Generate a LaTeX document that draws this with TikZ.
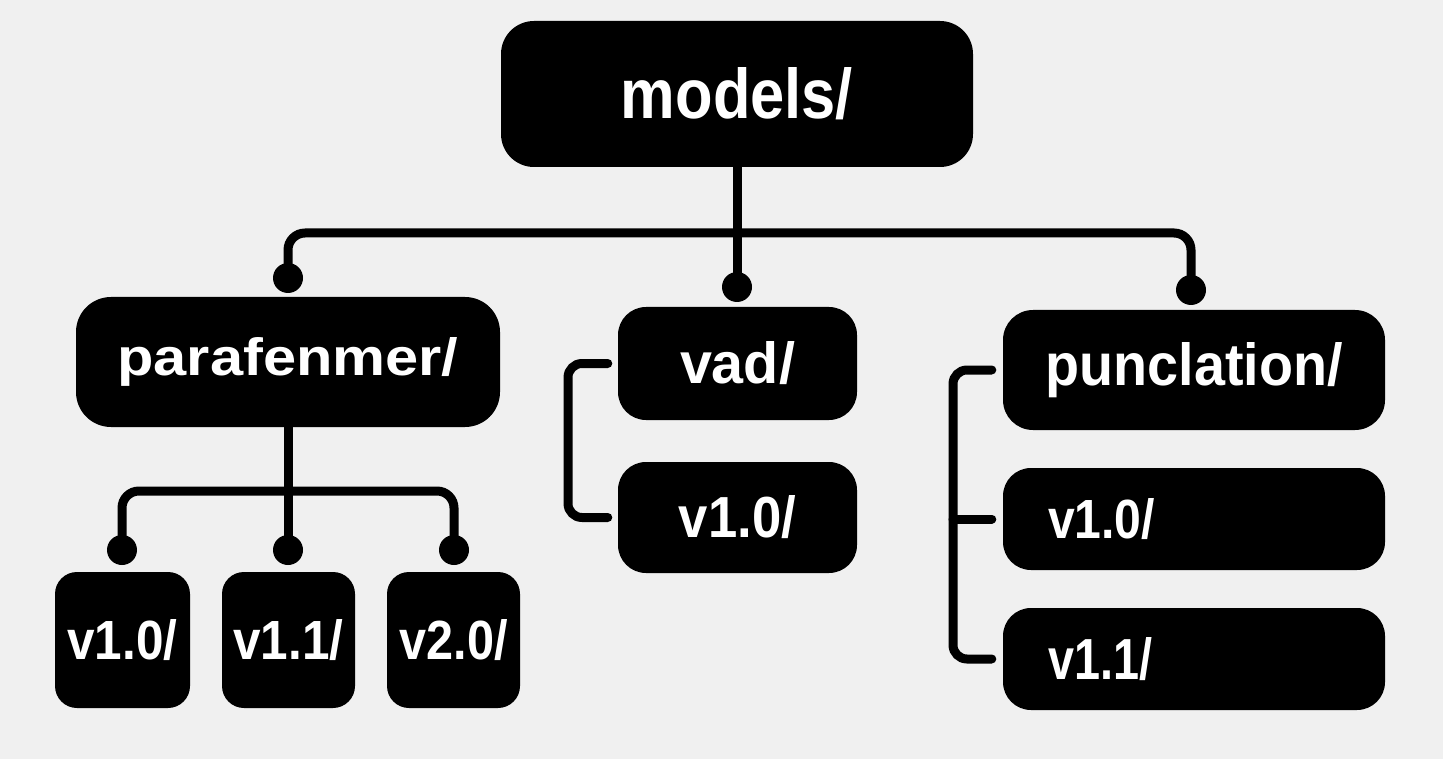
\documentclass[tikz,border=0pt]{standalone}
\usepackage{fontspec}
\setmainfont{Liberation Sans}
\usepackage{graphicx}
\definecolor{bg}{RGB}{240,240,240}
\newcommand\dirtxt[3]{\resizebox{#1pt}{#2pt}{\bfseries #3}}
\begin{document}
\begin{tikzpicture}[x=1pt,y=-1pt,
  box/.style={fill=black, draw=none, rounded corners=#1, inner sep=0pt, text=white},
  conn/.style={line width=9pt, line cap=round, rounded corners=17pt, draw=black},
  dot/.style={circle, fill=black, draw=none, inner sep=0pt, minimum size=30pt}]
\fill[bg] (0,0) rectangle (1443,759);
\useasboundingbox (0,0) rectangle (1443,759);

% boxes
\node[box=33pt, minimum width=472pt, minimum height=146pt] (models) at (737,94) {\dirtxt{232}{51}{models/}};
\node[box=35pt, minimum width=424pt, minimum height=130pt] (para) at (288,362) {\dirtxt{341}{38}{parafenmer/}};
\node[box=28pt, minimum width=239pt, minimum height=113pt] (vad) at (737.5,363.5) {\dirtxt{115}{42}{vad/}};
\node[box=28pt, minimum width=239pt, minimum height=111pt] (vadv) at (737.5,517.5) {\dirtxt{117}{42}{v1.0/}};
\node[box=30pt, minimum width=382pt, minimum height=120pt] (punc) at (1194,370) {\dirtxt{297}{43}{punclation/}};
\node[box=28pt, minimum width=382pt, minimum height=102pt, text width=292pt, align=left, inner xsep=45pt] (pv10) at (1194,519) {\dirtxt{107}{40}{v1.0/}};
\node[box=28pt, minimum width=382pt, minimum height=102pt, text width=292pt, align=left, inner xsep=45pt] (pv11) at (1194,659) {\dirtxt{104}{42}{v1.1/}};
\node[box=22pt, minimum width=135pt, minimum height=136pt] (c10) at (122.5,640) {\dirtxt{110}{40}{v1.0/}};
\node[box=22pt, minimum width=133pt, minimum height=136pt] (c11) at (288.5,640) {\dirtxt{110}{40}{v1.1/}};
\node[box=22pt, minimum width=133pt, minimum height=136pt] (c20) at (453.5,640) {\dirtxt{108}{40}{v2.0/}};

% dots
\node[dot] (d1) at (288,278) {};
\node[dot] (d2) at (737,287) {};
\node[dot] (d3) at (1191,290) {};
\node[dot] (e1) at (122,550) {};
\node[dot] (e2) at (288,550) {};
\node[dot] (e3) at (454,550) {};

% connectors from models
\draw[conn] (d1.center) |- (737,233) -| (d3.center);
\draw[conn] (models.south) -- (d2.center);

% connectors from parafenmer
\draw[conn] (e1.center) |- (288,491) -| (e3.center);
\draw[conn] (para.south) -- (e2.center);

% vad bracket
\coordinate (vb) at (568,440);
\draw[conn, rounded corners=14pt] ([xshift=-10pt]vad.west) -| (vb) |- ([xshift=-10pt]vadv.west);

% punclation bracket
\coordinate (pb) at (953,519);
\draw[conn, rounded corners=14pt] ([xshift=-11pt]punc.west) -| (pb) |- ([xshift=-11pt]pv11.west);
\draw[conn] (pb |- pv10.west) -- ([xshift=-11pt]pv10.west);
\end{tikzpicture}
\end{document}
